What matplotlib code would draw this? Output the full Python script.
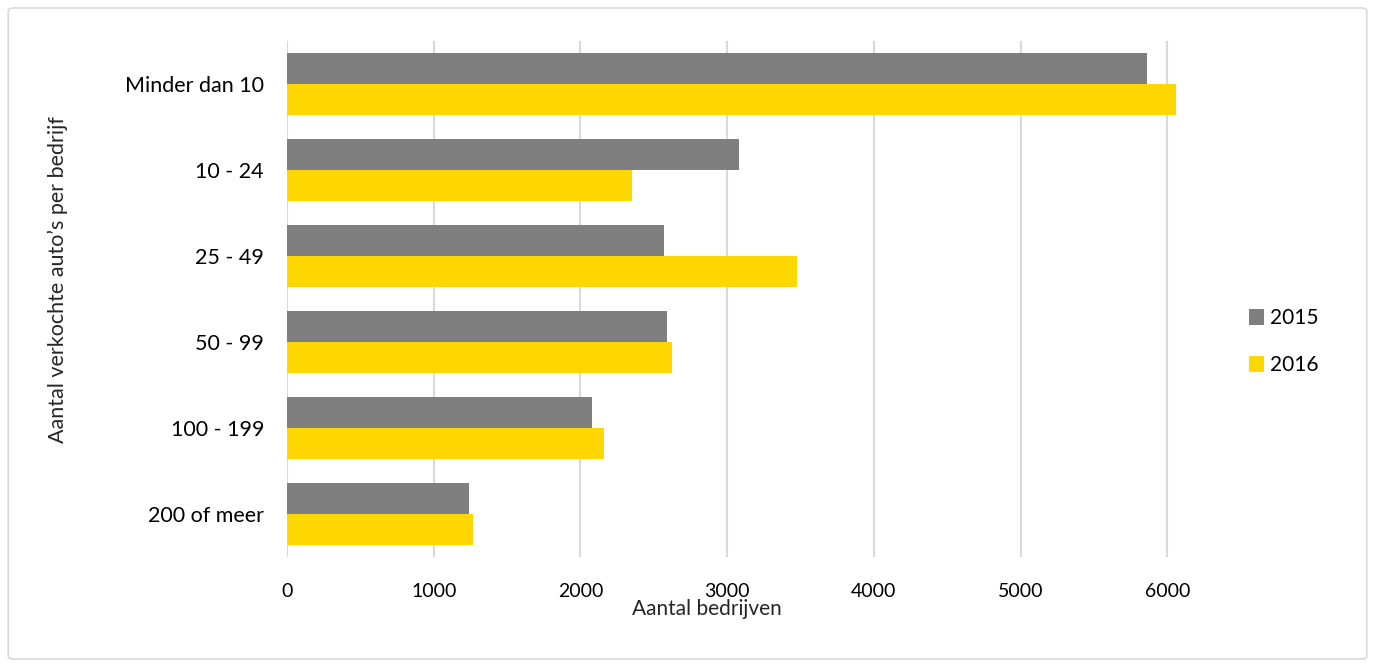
import matplotlib
matplotlib.use("Agg")
import matplotlib.pyplot as plt
import matplotlib.patches as mpatches
import numpy as np

# data
categories = ["Minder dan 10", "10 - 24", "25 - 49", "50 - 99", "100 - 199", "200 of meer"]
values_2015 = [5860, 3083, 2568, 2588, 2081, 1238]
values_2016 = [6058, 2350, 3477, 2624, 2159, 1266]
series_labels = ["2015", "2016"]
colors = ["#7f7f7f", "#ffd700"]

plt.rcParams["font.family"] = ["Lato", "DejaVu Sans"]

fig = plt.figure(figsize=(13.75, 6.67), dpi=100)
ax = fig.add_axes([0.2087, 0.165, 0.667, 0.7735])

# outer frame like the excel chart area
fig.patches.append(mpatches.FancyBboxPatch((0.006, 0.012), 0.988, 0.976,
                                           boxstyle="round,pad=0,rounding_size=0.004",
                                           transform=fig.transFigure, fill=False,
                                           edgecolor="#d9d9d9", linewidth=1.2))

y = np.arange(len(categories))
h = 0.365
ax.barh(y - h / 2, values_2015, height=h, color=colors[0], label=series_labels[0], zorder=3)
ax.barh(y + h / 2, values_2016, height=h, color=colors[1], label=series_labels[1], zorder=3)

ax.set_ylim(len(categories) - 0.5, -0.5)
ax.set_xlim(0, 6250)
ax.set_xticks([0, 1000, 2000, 3000, 4000, 5000, 6000])
ax.set_yticks(y)
ax.set_yticklabels(categories)
ax.tick_params(axis="both", length=0, colors="#000000")
ax.tick_params(axis="x", labelsize=14, pad=19)
ax.tick_params(axis="y", labelsize=15.5, pad=16.5)
ax.grid(axis="x", color="#d9d9d9", linewidth=1.5, zorder=0)
for s in ax.spines.values():
    s.set_visible(False)

ax.set_xlabel("Aantal bedrijven", fontsize=15, color="#262626")
ax.xaxis.set_label_coords(0.458, -0.082)
ax.set_ylabel("Aantal verkochte auto\u2019s per bedrijf", fontsize=15.5, color="#262626")
ax.yaxis.set_label_coords(-0.239, 0.537)

leg = ax.legend(loc="center left", bbox_to_anchor=(1.028, 0.417), frameon=False,
                fontsize=15, handlelength=0.75, handleheight=0.75, labelspacing=1.3,
                handletextpad=0.3)

fig.savefig("out.png", dpi=100)
